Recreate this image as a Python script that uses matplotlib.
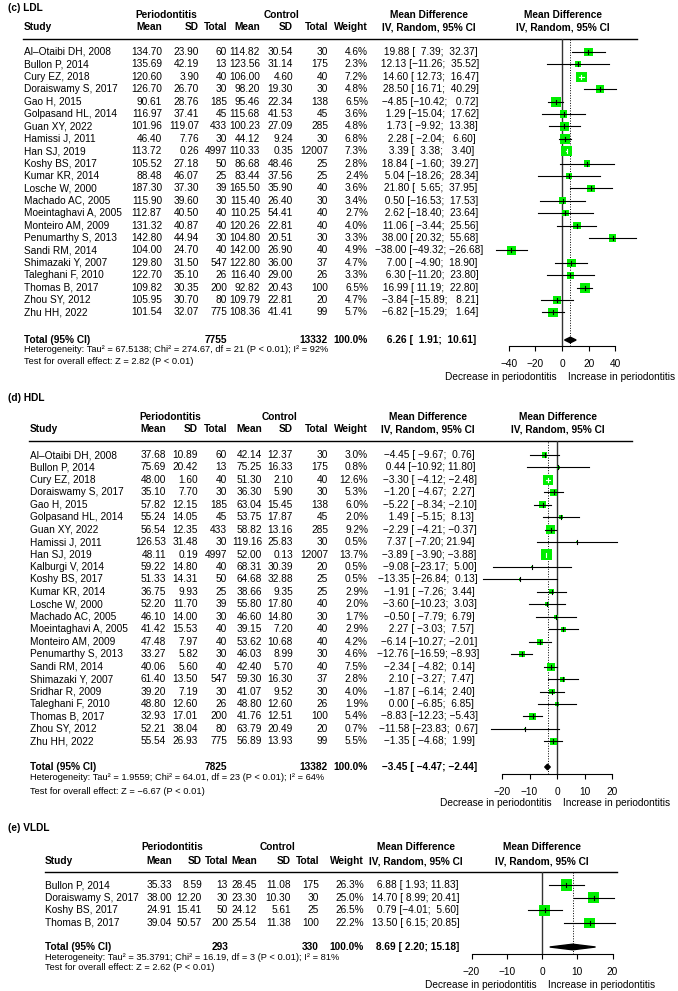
import numpy as np
import matplotlib
matplotlib.use('Agg')
from matplotlib import pyplot as plt

plt.rcParams['font.family'] = ['Liberation Sans', 'DejaVu Sans']

# ---------------- (c) LDL ----------------
ldl_study = ['Al\u2013Otaibi DH, 2008', 'Bullon P, 2014', 'Cury EZ, 2018', 'Doraiswamy S, 2017', 'Gao H, 2015',
             'Golpasand HL, 2014', 'Guan XY, 2022', 'Hamissi J, 2011', 'Han SJ, 2019', 'Koshy BS, 2017',
             'Kumar KR, 2014', 'Losche W, 2000', 'Machado AC, 2005', 'Moeintaghavi A, 2005', 'Monteiro AM, 2009',
             'Penumarthy S, 2013', 'Sandi RM, 2014', 'Shimazaki Y, 2007', 'Taleghani F, 2010', 'Thomas B, 2017',
             'Zhou SY, 2012', 'Zhu HH, 2022']
ldl_mean_p = [134.70, 135.69, 120.60, 126.70, 90.61, 116.97, 101.96, 46.40, 113.72, 105.52, 88.48, 187.30, 115.90,
              112.87, 131.32, 142.80, 104.00, 129.80, 122.70, 109.82, 105.95, 101.54]
ldl_sd_p = [23.90, 42.19, 3.90, 26.70, 28.76, 37.41, 119.07, 7.76, 0.26, 27.18, 46.07, 37.30, 39.60, 40.50, 40.87,
            44.94, 24.70, 31.50, 35.10, 30.35, 30.70, 32.07]
ldl_n_p = [60, 13, 40, 30, 185, 45, 433, 30, 4997, 50, 25, 39, 30, 40, 40, 30, 40, 547, 26, 200, 80, 775]
ldl_mean_c = [114.82, 123.56, 106.00, 98.20, 95.46, 115.68, 100.23, 44.12, 110.33, 86.68, 83.44, 165.50, 115.40,
              110.25, 120.26, 104.80, 142.00, 122.80, 116.40, 92.82, 109.79, 108.36]
ldl_sd_c = [30.54, 31.14, 4.60, 19.30, 22.34, 41.53, 27.09, 9.24, 0.35, 48.46, 37.56, 35.90, 26.40, 54.41, 22.81,
            20.51, 26.90, 36.00, 29.00, 20.43, 22.81, 41.41]
ldl_n_c = [30, 175, 40, 30, 138, 45, 285, 30, 12007, 25, 25, 40, 30, 40, 40, 30, 40, 37, 26, 100, 20, 99]
ldl_weight = [4.6, 2.3, 7.2, 4.8, 6.5, 3.6, 4.8, 6.8, 7.3, 2.8, 2.4, 3.6, 3.4, 2.7, 4.0, 3.3, 4.9, 4.7, 3.3, 6.5,
              4.7, 5.7]
ldl_md = [19.88, 12.13, 14.60, 28.50, -4.85, 1.29, 1.73, 2.28, 3.39, 18.84, 5.04, 21.80, 0.50, 2.62, 11.06, 38.00,
          -38.00, 7.00, 6.30, 16.99, -3.84, -6.82]
ldl_lo = [7.39, -11.26, 12.73, 16.71, -10.42, -15.04, -9.92, -2.04, 3.38, -1.60, -18.26, 5.65, -16.53, -18.40,
          -3.44, 20.32, -49.32, -4.90, -11.20, 11.19, -15.89, -15.29]
ldl_hi = [32.37, 35.52, 16.47, 40.29, 0.72, 17.62, 13.38, 6.60, 3.40, 39.27, 28.34, 37.95, 17.53, 23.64, 25.56,
          55.68, -26.68, 18.90, 23.80, 22.80, 8.21, 1.64]
ldl_total = (7755, 13332, 6.26, 1.91, 10.61)
ldl_het = 'Heterogeneity: Tau\u00b2 = 67.5138; Chi\u00b2 = 274.67, df = 21 (P < 0.01); I\u00b2 = 92%'
ldl_test = 'Test for overall effect: Z = 2.82 (P < 0.01)'
ldl_ticks = [-40, -20, 0, 20, 40]

# ---------------- (d) HDL ----------------
hdl_study = ['Al\u2013Otaibi DH, 2008', 'Bullon P, 2014', 'Cury EZ, 2018', 'Doraiswamy S, 2017', 'Gao H, 2015',
             'Golpasand HL, 2014', 'Guan XY, 2022', 'Hamissi J, 2011', 'Han SJ, 2019', 'Kalburgi V, 2014',
             'Koshy BS, 2017', 'Kumar KR, 2014', 'Losche W, 2000', 'Machado AC, 2005', 'Moeintaghavi A, 2005',
             'Monteiro AM, 2009', 'Penumarthy S, 2013', 'Sandi RM, 2014', 'Shimazaki Y, 2007', 'Sridhar R, 2009',
             'Taleghani F, 2010', 'Thomas B, 2017', 'Zhou SY, 2012', 'Zhu HH, 2022']
hdl_mean_p = [37.68, 75.69, 48.00, 35.10, 57.82, 55.24, 56.54, 126.53, 48.11, 59.22, 51.33, 36.75, 52.20, 46.10,
              41.42, 47.48, 33.27, 40.06, 61.40, 39.20, 48.80, 32.93, 52.21, 55.54]
hdl_sd_p = [10.89, 20.42, 1.60, 7.70, 12.15, 14.05, 12.35, 31.48, 0.19, 14.80, 14.31, 9.93, 11.70, 14.00, 15.53,
            7.97, 5.82, 5.60, 13.50, 7.19, 12.60, 17.01, 38.04, 26.93]
hdl_n_p = [60, 13, 40, 30, 185, 45, 433, 30, 4997, 40, 50, 25, 39, 30, 40, 40, 30, 40, 547, 30, 26, 200, 80, 775]
hdl_mean_c = [42.14, 75.25, 51.30, 36.30, 63.04, 53.75, 58.82, 119.16, 52.00, 68.31, 64.68, 38.66, 55.80, 46.60,
              39.15, 53.62, 46.03, 42.40, 59.30, 41.07, 48.80, 41.76, 63.79, 56.89]
hdl_sd_c = [12.37, 16.33, 2.10, 5.90, 15.45, 17.87, 13.16, 25.83, 0.13, 30.39, 32.88, 9.35, 17.80, 14.80, 7.20,
            10.68, 8.99, 5.70, 16.30, 9.52, 12.60, 12.51, 20.49, 13.93]
hdl_n_c = [30, 175, 40, 30, 138, 45, 285, 30, 12007, 20, 25, 25, 40, 30, 40, 40, 30, 40, 37, 30, 26, 100, 20, 99]
hdl_weight = [3.0, 0.8, 12.6, 5.3, 6.0, 2.0, 9.2, 0.5, 13.7, 0.5, 0.5, 2.9, 2.0, 1.7, 2.9, 4.2, 4.6, 7.5, 2.8, 4.0,
              1.9, 5.4, 0.7, 5.5]
hdl_md = [-4.45, 0.44, -3.30, -1.20, -5.22, 1.49, -2.29, 7.37, -3.89, -9.08, -13.35, -1.91, -3.60, -0.50, 2.27,
          -6.14, -12.76, -2.34, 2.10, -1.87, 0.00, -8.83, -11.58, -1.35]
hdl_lo = [-9.67, -10.92, -4.12, -4.67, -8.34, -5.15, -4.21, -7.20, -3.90, -23.17, -26.84, -7.26, -10.23, -7.79,
          -3.03, -10.27, -16.59, -4.82, -3.27, -6.14, -6.85, -12.23, -23.83, -4.68]
hdl_hi = [0.76, 11.80, -2.48, 2.27, -2.10, 8.13, -0.37, 21.94, -3.88, 5.00, 0.13, 3.44, 3.03, 6.79, 7.57, -2.01,
          -8.93, 0.14, 7.47, 2.40, 6.85, -5.43, 0.67, 1.99]
hdl_total = (7825, 13382, -3.45, -4.47, -2.44)
hdl_het = 'Heterogeneity: Tau\u00b2 = 1.9559; Chi\u00b2 = 64.01, df = 23 (P < 0.01); I\u00b2 = 64%'
hdl_test = 'Test for overall effect: Z = \u22126.67 (P < 0.01)'
hdl_ticks = [-20, -10, 0, 10, 20]

# ---------------- (e) VLDL ----------------
vldl_study = ['Bullon P, 2014', 'Doraiswamy S, 2017', 'Koshy BS, 2017', 'Thomas B, 2017']
vldl_mean_p = [35.33, 38.00, 24.91, 39.04]
vldl_sd_p = [8.59, 12.20, 15.41, 50.57]
vldl_n_p = [13, 30, 50, 200]
vldl_mean_c = [28.45, 23.30, 24.12, 25.54]
vldl_sd_c = [11.08, 10.30, 5.61, 11.38]
vldl_n_c = [175, 30, 25, 100]
vldl_weight = [26.3, 25.0, 26.5, 22.2]
vldl_md = [6.88, 14.70, 0.79, 13.50]
vldl_lo = [1.93, 8.99, -4.01, 6.15]
vldl_hi = [11.83, 20.41, 5.60, 20.85]
vldl_total = (293, 330, 8.69, 2.20, 15.18)
vldl_het = 'Heterogeneity: Tau\u00b2 = 35.3791; Chi\u00b2 = 16.19, df = 3 (P < 0.01); I\u00b2 = 81%'
vldl_test = 'Test for overall effect: Z = 2.62 (P < 0.01)'
vldl_ticks = [-20, -10, 0, 10, 20]

W, H = 678, 991
FS = 7.3
FS_SMALL = 6.7
GREEN = '#00ee00'


def fmt(v):
    return f'{v:.2f}'.replace('-', '\u2212')


def md_labels(md, lo, hi, tot):
    # R-style padding: each part right-justified to the widest value in the panel
    m_all, l_all, h_all = list(md) + [tot[2]], list(lo) + [tot[3]], list(hi) + [tot[4]]
    we = max(len(fmt(v)) for v in m_all)
    wl = max(len(fmt(v)) for v in l_all)
    wh = max(len(fmt(v)) for v in h_all)
    return [fmt(m).rjust(we) + ' [' + fmt(l).rjust(wl) + '; ' + fmt(h).rjust(wh) + ']'
            for m, l, h in zip(m_all, l_all, h_all)]


def draw_panel(fig, ax, title, d, L):
    bold = dict(fontweight='bold', fontsize=FS, va='center')
    reg = dict(fontsize=FS, va='center')
    cols = L['cols']

    ax.text(8, L['title_y'], title, ha='left', **bold)
    y1, y2 = L['hdr1_y'], L['hdr2_y']
    ax.text(L['perio_c'], y1, 'Periodontitis', ha='center', **bold)
    ax.text(L['ctrl_c'], y1, 'Control', ha='center', **bold)
    ax.text(L['study_x'], y2, 'Study', ha='left', **bold)
    for x, lab in zip(cols, ['Mean', 'SD', 'Total', 'Mean', 'SD', 'Total', 'Weight']):
        ax.text(x, y2, lab, ha='right', **bold)
    for xc in (L['md_c'], L['fp_c']):
        ax.text(xc, y1, 'Mean Difference', ha='center', **bold)
        ax.text(xc, y2, 'IV, Random, 95% CI', ha='center', **bold)
    ax.plot([L['rule_x0'], L['rule_x1']], [L['rule_y'], L['rule_y']], color='black', lw=1.0)

    n = len(d['study'])
    ys = L['row0'] + L['dy'] * np.arange(n)
    labels = md_labels(d['md'], d['lo'], d['hi'], d['total'])
    for i, y in enumerate(ys):
        ax.text(L['study_x'], y, d['study'][i], ha='left', **reg)
        vals = [fmt(d['mp'][i]), fmt(d['sp'][i]), str(d['np'][i]),
                fmt(d['mc'][i]), fmt(d['sc'][i]), str(d['nc'][i]), f"{d['w'][i]:.1f}%"]
        for x, s in zip(cols, vals):
            ax.text(x, y, s, ha='right', **reg)
        ax.text(L['md_c'], y, labels[i], ha='center', **reg)

    tn1, tn2, tmd, tlo, thi = d['total']
    ty = L['total_y']
    ax.text(L['study_x'], ty, 'Total (95% CI)', ha='left', **bold)
    ax.text(cols[2], ty, str(tn1), ha='right', **bold)
    ax.text(cols[5], ty, str(tn2), ha='right', **bold)
    ax.text(cols[6], ty, '100.0%', ha='right', **bold)
    ax.text(L['md_c'], ty, labels[-1], ha='center', **bold)
    ax.text(L['study_x'], L['het_y'], d['het'], ha='left', va='center', fontsize=FS_SMALL)
    ax.text(L['study_x'], L['test_y'], d['test'], ha='left', va='center', fontsize=FS_SMALL)

    # forest column
    z0, sc = L['zero_px'], L['scale']
    xl, xr = L['fp_px']
    fax = fig.add_axes([xl / W, 1 - L['axis_y'] / H, (xr - xl) / W, (L['axis_y'] - L['rule_y']) / H])
    fax.set_xlim((xl - z0) / sc, (xr - z0) / sc)
    fax.set_ylim(L['axis_y'], L['rule_y'])
    fax.patch.set_alpha(0)
    for s in ('top', 'right', 'left'):
        fax.spines[s].set_visible(False)
    ticks = d['ticks']
    fax.spines['bottom'].set_bounds(ticks[0], ticks[-1])
    fax.spines['bottom'].set_linewidth(0.8)
    fax.set_xticks(ticks)
    fax.set_yticks([])
    fax.tick_params(axis='x', direction='out', length=3.6, width=0.8, pad=6, labelsize=FS)

    fax.axvline(0, color='#333333', lw=1.0, zorder=1)
    fax.axvline(tmd, color='black', lw=0.7, ls=(0, (1, 1.6)), zorder=1)

    w = np.array(d['w'])
    md, lo, hi = np.array(d['md']), np.array(d['lo']), np.array(d['hi'])
    side_px = L['sq'] * np.sqrt(w / w.max())
    fax.scatter(md, ys, marker='s', s=(side_px * 0.72) ** 2, color=GREEN, linewidths=0, zorder=3)
    for i, y in enumerate(ys):
        c = 'white' if (hi[i] - lo[i]) * sc < side_px[i] else 'black'
        fax.plot([lo[i], hi[i]], [y, y], color=c, lw=0.8, zorder=4, clip_on=False)
        fax.plot([md[i], md[i]], [y - 2, y + 2], color=c, lw=0.8, zorder=4, clip_on=False)
    dh = 2.8
    fax.fill([tlo, tmd, thi, tmd], [ty, ty - dh, ty, ty + dh], color='black', zorder=4, clip_on=False)

    fax.annotate('Decrease in periodontitis', xy=(0, L['dec_y']), xytext=(-3.6, 0), textcoords='offset points',
                 ha='right', va='center', fontsize=FS, annotation_clip=False)
    fax.annotate('Increase in periodontitis', xy=(0, L['dec_y']), xytext=(4, 0), textcoords='offset points',
                 ha='left', va='center', fontsize=FS, annotation_clip=False)


fig = plt.figure(figsize=(W / 100, H / 100), dpi=100)
ax = fig.add_axes([0, 0, 1, 1])
ax.set_xlim(0, W)
ax.set_ylim(H, 0)
ax.axis('off')

draw_panel(fig, ax, '(c) LDL',
           dict(study=ldl_study, mp=ldl_mean_p, sp=ldl_sd_p, np=ldl_n_p, mc=ldl_mean_c, sc=ldl_sd_c, nc=ldl_n_c,
                w=ldl_weight, md=ldl_md, lo=ldl_lo, hi=ldl_hi, total=ldl_total, het=ldl_het, test=ldl_test,
                ticks=ldl_ticks),
           dict(title_y=8, hdr1_y=15, hdr2_y=27, rule_y=39, row0=52, dy=12.4, total_y=340, het_y=349, test_y=361,
                axis_y=346, dec_y=377, study_x=24, cols=[162, 199, 227, 260, 293, 328, 368],
                perio_c=166, ctrl_c=281, md_c=429, fp_c=563, rule_x0=23, rule_x1=637,
                zero_px=562, scale=1.33, fp_px=(488, 645), sq=10.5))

draw_panel(fig, ax, '(d) HDL',
           dict(study=hdl_study, mp=hdl_mean_p, sp=hdl_sd_p, np=hdl_n_p, mc=hdl_mean_c, sc=hdl_sd_c, nc=hdl_n_c,
                w=hdl_weight, md=hdl_md, lo=hdl_lo, hi=hdl_hi, total=hdl_total, het=hdl_het, test=hdl_test,
                ticks=hdl_ticks),
           dict(title_y=398, hdr1_y=417, hdr2_y=429, rule_y=441, row0=455, dy=12.45, total_y=767, het_y=778,
                test_y=791, axis_y=774, dec_y=803, study_x=30, cols=[166, 198, 227, 262, 293, 328, 368],
                perio_c=170, ctrl_c=279, md_c=428, fp_c=558, rule_x0=29, rule_x1=632,
                zero_px=557, scale=2.75, fp_px=(478, 640), sq=10.7))

draw_panel(fig, ax, '(e) VLDL',
           dict(study=vldl_study, mp=vldl_mean_p, sp=vldl_sd_p, np=vldl_n_p, mc=vldl_mean_c, sc=vldl_sd_c,
                nc=vldl_n_c, w=vldl_weight, md=vldl_md, lo=vldl_lo, hi=vldl_hi, total=vldl_total, het=vldl_het,
                test=vldl_test, ticks=vldl_ticks),
           dict(title_y=828, hdr1_y=847, hdr2_y=861, rule_y=872, row0=885, dy=12.6, total_y=947, het_y=957,
                test_y=967, axis_y=954, dec_y=985, study_x=45, cols=[172, 202, 228, 257, 291, 319, 364],
                perio_c=172, ctrl_c=278, md_c=416, fp_c=542, rule_x0=45, rule_x1=617,
                zero_px=542, scale=3.525, fp_px=(465, 625), sq=11.3))

fig.savefig('out.png', dpi=100)
